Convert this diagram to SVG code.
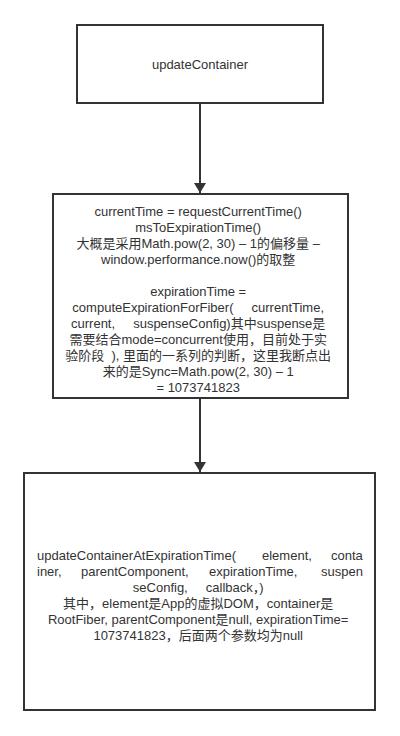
<svg xmlns="http://www.w3.org/2000/svg" width="400" height="736" viewBox="0 0 400 736">
<style>
.box{fill:#fff;stroke:#333;stroke-width:2}
.t{font-family:"Liberation Sans","Noto Sans CJK SC",sans-serif;font-size:13px;fill:#333;text-anchor:middle;dominant-baseline:central}
.j{text-anchor:start}
.edge{stroke:#333;stroke-width:2;fill:none}
</style>
<defs>
<marker id="arr" markerWidth="10" markerHeight="12" refX="10" refY="6" orient="auto" markerUnits="userSpaceOnUse">
<path d="M0,0 L10,6 L0,12 z" fill="#333"/>
</marker>
</defs>
<rect width="400" height="736" fill="#fff"/>
<g id="connectors">
<line class="edge" x1="200" y1="103" x2="200" y2="193" marker-end="url(#arr)"/>
<line class="edge" x1="200" y1="398" x2="200" y2="472" marker-end="url(#arr)"/>
</g>
<g id="node1">
<rect class="box" x="77" y="25" width="246" height="78"/>
<text class="t" x="200" y="64">updateContainer</text>
</g>
<g id="node2">
<rect class="box" x="53" y="194" width="295" height="204"/>
<text class="t" xml:space="preserve">
<tspan x="200" y="211">currentTime = requestCurrentTime()</tspan>
<tspan x="200" y="227">msToExpirationTime()</tspan>
<tspan x="200" y="243">大概是采用Math.pow(2, 30) – 1的偏移量 –</tspan>
<tspan x="200" y="259">window.performance.now()的取整</tspan>
<tspan x="200" y="291">expirationTime =</tspan>
<tspan x="200" y="307">computeExpirationForFiber(     currentTime,</tspan>
<tspan x="200" y="323">current,     suspenseConfig)其中suspense是</tspan>
<tspan x="200" y="339">需要结合mode=concurrent使用，目前处于实</tspan>
<tspan x="200" y="355">验阶段  ), 里面的一系列的判断，这里我断点出</tspan>
<tspan x="200" y="371">来的是Sync=Math.pow(2, 30) – 1</tspan>
<tspan x="200" y="387">= 1073741823</tspan>
</text>
</g>
<g id="node3">
<rect class="box" x="24" y="473" width="351" height="237"/>
<text class="t j" y="555"><tspan x="37">updateContainerAtExpirationTime(</tspan><tspan x="262">element,</tspan><tspan x="331">conta</tspan></text>
<text class="t j" y="571"><tspan x="37">iner,</tspan><tspan x="81">parentComponent,</tspan><tspan x="209">expirationTime,</tspan><tspan x="321">suspen</tspan></text>
<text class="t" xml:space="preserve">
<tspan x="200" y="587">seConfig,     callback，)</tspan>
<tspan x="200" y="603">其中，element是App的虚拟DOM，container是</tspan>
<tspan x="200" y="619">RootFiber, parentComponent是null, expirationTime=</tspan>
<tspan x="200" y="635">1073741823，后面两个参数均为null</tspan>
</text>
</g>
</svg>
